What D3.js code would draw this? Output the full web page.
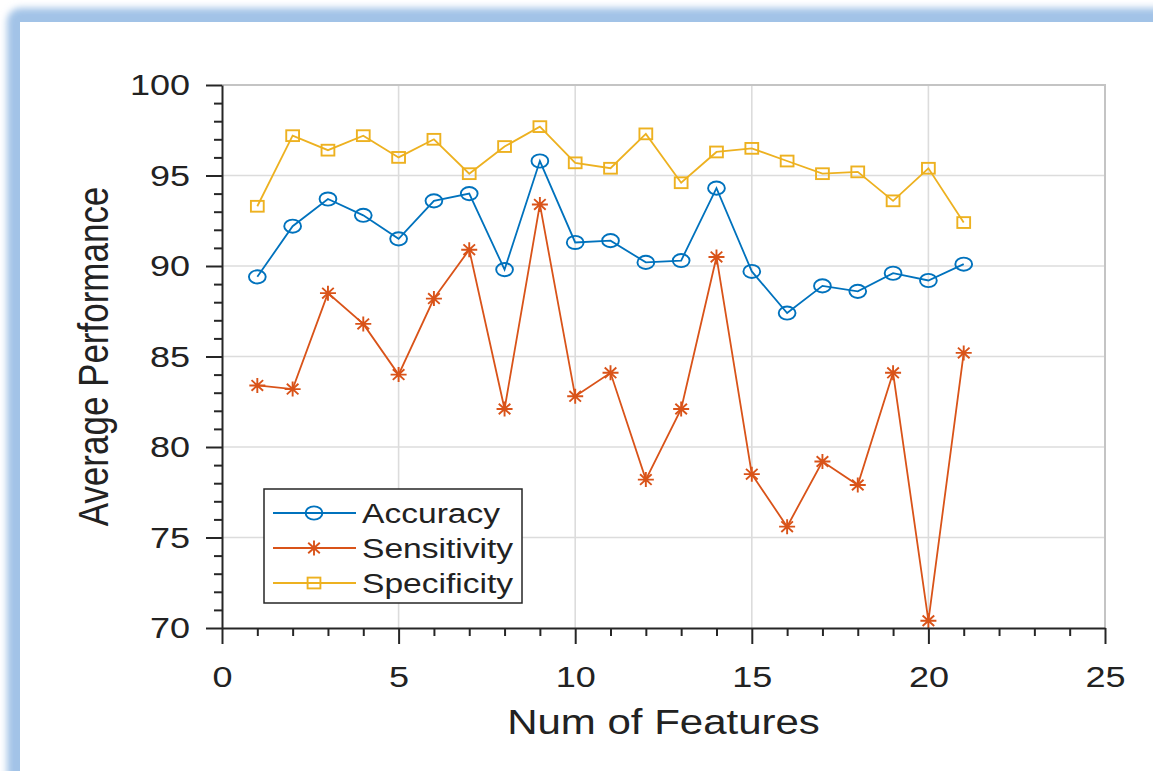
<!DOCTYPE html>
<html>
<head>
<meta charset="utf-8">
<script src="https://cdn.jsdelivr.net/npm/d3@7"></script>
<style>
  html, body { margin: 0; padding: 0; background: #ffffff; }
  svg { display: block; }
  text { font-family: "Liberation Sans", Arial, Helvetica, sans-serif; fill: #222; }
</style>
</head>
<body>
<svg id="chart" width="1153" height="771"></svg>
<script>
// Number of features used (x) and the three average performance measures
const features = [1, 2, 3, 4, 5, 6, 7, 8, 9, 10, 11, 12, 13, 14, 15, 16, 17, 18, 19, 20, 21];
const accuracy = [89.4, 92.2, 93.7, 92.8, 91.5, 93.6, 94.0, 89.8, 95.8, 91.3, 91.4, 90.2, 90.3, 94.3, 89.7, 87.4, 88.9, 88.6, 89.6, 89.2, 90.1];
const sensitivity = [83.4, 83.2, 88.5, 86.8, 84.0, 88.2, 90.9, 82.1, 93.4, 82.8, 84.1, 78.2, 82.1, 90.5, 78.5, 75.6, 79.2, 77.9, 84.1, 70.4, 85.2];
const specificity = [93.3, 97.2, 96.4, 97.2, 96.0, 97.0, 95.1, 96.6, 97.7, 95.7, 95.4, 97.3, 94.6, 96.3, 96.5, 95.8, 95.1, 95.2, 93.6, 95.4, 92.4];
const seriesNames = ["Accuracy", "Sensitivity", "Specificity"];
const xTicks = [0, 5, 10, 15, 20, 25];
const yTicks = [70, 75, 80, 85, 90, 95, 100];
const xLabel = "Num of Features";
const yLabel = "Average Performance";

const colors = { Accuracy: "#0072BD", Sensitivity: "#D95319", Specificity: "#EDB120" };
const SX = 1.2; // horizontal stretch applied to glyphs and markers

const svg = d3.select("#chart");

// Soft blue frame around the panel
const defs = svg.append("defs");
defs.append("filter").attr("id", "soft").attr("x", "-10%").attr("y", "-10%").attr("width", "120%").attr("height", "120%")
  .append("feGaussianBlur").attr("stdDeviation", 3.5);
svg.append("rect").attr("x", 7).attr("y", 8).attr("width", 1400).attr("height", 1000)
  .attr("rx", 14).attr("fill", "#a2c3e7").attr("filter", "url(#soft)");
svg.append("rect").attr("x", 20).attr("y", 22).attr("width", 1200).attr("height", 800).attr("fill", "#ffffff");

const x = d3.scaleLinear().domain([0, 25]).range([222, 1105]);
const y = d3.scaleLinear().domain([70, 100]).range([628, 85]);

// Grid
const grid = svg.append("g");
grid.selectAll("line.h").data(yTicks.filter(v => v > 70 && v < 100)).join("line")
  .attr("x1", x(0)).attr("x2", x(25)).attr("y1", d => y(d)).attr("y2", d => y(d))
  .attr("stroke", "#dcdcdc").attr("stroke-width", 1.6);
grid.selectAll("line.v").data(xTicks.filter(v => v > 0 && v < 25)).join("line")
  .attr("y1", y(70)).attr("y2", y(100)).attr("x1", d => x(d)).attr("x2", d => x(d))
  .attr("stroke", "#dcdcdc").attr("stroke-width", 1.6);
// Top and right box edges
svg.append("path")
  .attr("d", `M${x(0)},${y(100)}H${x(25)}V${y(70)}`)
  .attr("fill", "none").attr("stroke", "#c4c4c4").attr("stroke-width", 2);

// Series lines
const line = d3.line().x((d, i) => x(features[i])).y(d => y(d));
const data = { Accuracy: accuracy, Sensitivity: sensitivity, Specificity: specificity };
seriesNames.forEach(name => {
  svg.append("path").datum(data[name]).attr("d", line)
    .attr("fill", "none").attr("stroke", colors[name]).attr("stroke-width", 1.8);
});

// Marker drawing helpers
function drawMarker(g, name) {
  const c = colors[name];
  if (name === "Accuracy") {
    g.append("ellipse").attr("rx", 8.4).attr("ry", 6.6)
      .attr("fill", "none").attr("stroke", c).attr("stroke-width", 1.9);
  } else if (name === "Sensitivity") {
    g.append("path")
      .attr("d", "M-8,0H8M0,-7.5V7.5M-5.8,-5.3L5.8,5.3M-5.8,5.3L5.8,-5.3")
      .attr("fill", "none").attr("stroke", c).attr("stroke-width", 1.9);
  } else {
    g.append("rect").attr("x", -6.4).attr("y", -5.4).attr("width", 12.8).attr("height", 10.8)
      .attr("fill", "none").attr("stroke", c).attr("stroke-width", 1.9);
  }
}
seriesNames.forEach(name => {
  data[name].forEach((v, i) => {
    const g = svg.append("g").attr("transform", `translate(${x(features[i])},${y(v)})`);
    drawMarker(g, name);
  });
});

// Axes: major ticks with labels, minor ticks every unit
const axisColor = "#262626";
const yMajor = svg.append("g").attr("transform", `translate(${x(0)},0)`)
  .call(d3.axisLeft(y).tickValues(yTicks).tickSize(16).tickSizeOuter(0));
const yMinor = svg.append("g").attr("transform", `translate(${x(0)},0)`)
  .call(d3.axisLeft(y).tickValues(d3.range(70, 101, 1).filter(v => v % 5 !== 0)).tickSize(8).tickFormat(""));
const xMajor = svg.append("g").attr("transform", `translate(0,${y(70)})`)
  .call(d3.axisBottom(x).tickValues(xTicks).tickSize(16).tickSizeOuter(0));
const xMinor = svg.append("g").attr("transform", `translate(0,${y(70)})`)
  .call(d3.axisBottom(x).tickValues(d3.range(0, 26, 1).filter(v => v % 5 !== 0)).tickSize(8).tickFormat(""));
[yMajor, yMinor, xMajor, xMinor].forEach(g => {
  g.selectAll("line").attr("stroke", axisColor).attr("stroke-width", 2);
  g.select(".domain").attr("stroke", axisColor).attr("stroke-width", 2);
});
yMinor.select(".domain").remove();
xMinor.select(".domain").remove();
yMajor.selectAll(".tick text")
  .attr("x", -32 / SX).attr("transform", `scale(${SX},1)`)
  .style("font-size", "30px").attr("fill", "#222");
xMajor.selectAll(".tick text")
  .attr("y", 38).attr("transform", `scale(${SX},1)`)
  .style("font-size", "30px").attr("fill", "#222");

// Axis titles
svg.append("text")
  .attr("transform", `translate(${(x(0) + x(25)) / 2},734) scale(${SX},1)`)
  .attr("text-anchor", "middle").style("font-size", "35px").text(xLabel);
svg.append("text")
  .attr("transform", `translate(108,${(y(70) + y(100)) / 2}) scale(${SX},1) rotate(-90)`)
  .attr("text-anchor", "middle").style("font-size", "35px").text(yLabel);

// Legend
const legend = svg.append("g");
legend.append("rect").attr("x", 264).attr("y", 489).attr("width", 258).attr("height", 114)
  .attr("fill", "#ffffff").attr("stroke", axisColor).attr("stroke-width", 1.5);
seriesNames.forEach((name, i) => {
  const cy = 513 + i * 35;
  legend.append("line").attr("x1", 273).attr("x2", 356).attr("y1", cy).attr("y2", cy)
    .attr("stroke", colors[name]).attr("stroke-width", 1.8);
  drawMarker(legend.append("g").attr("transform", `translate(314,${cy})`), name);
  legend.append("text").attr("transform", `translate(362,${cy}) scale(${SX},1)`)
    .attr("dy", "0.35em").style("font-size", "28px").text(name);
});
</script>
</body>
</html>
